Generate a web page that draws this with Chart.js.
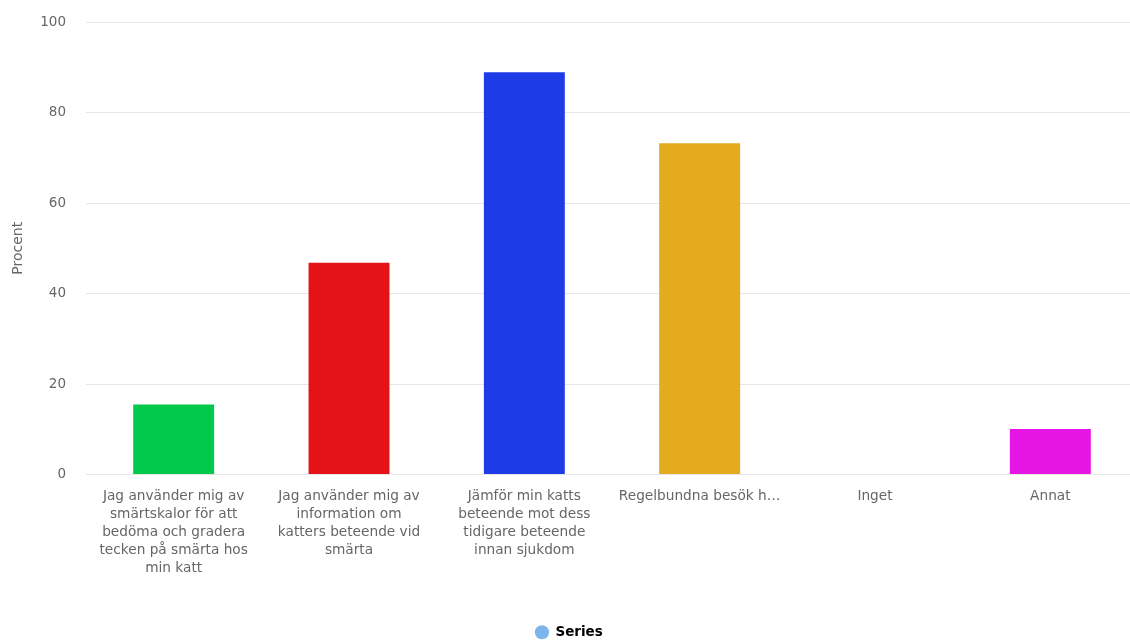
<!DOCTYPE html>
<html>
<head>
<meta charset="utf-8">
<script src="https://cdn.jsdelivr.net/npm/chart.js@4/dist/chart.umd.min.js"></script>
<style>
  html, body { margin: 0; padding: 0; background: #ffffff; overflow: hidden; width: 1130px; height: 640px; }
  #wrap { position: absolute; left: 0; top: 0; width: 1145px; height: 649px; }
  canvas { display: block; }
</style>
</head>
<body>
<div id="wrap"><canvas id="c" width="1145" height="649"></canvas></div>
<script>
const categories = [
  ["Jag använder mig av", "smärtskalor för att", "bedöma och gradera", "tecken på smärta hos", "min katt"],
  ["Jag använder mig av", "information om", "katters beteende vid", "smärta"],
  ["Jämför min katts", "beteende mot dess", "tidigare beteende", "innan sjukdom"],
  ["Regelbundna besök h…"],
  ["Inget"],
  ["Annat"]
];
const seriesName = "Series";
const values = [15.7, 47.0, 89.1, 73.4, 0, 10.3];
const barColors = ["#00C94C", "#E31317", "#1E3BE8", "#E5AB1E", "#7CB5EC", "#E615E3"];
const yTicks = [0, 20, 40, 60, 80, 100];
const yTitle = "Procent";
const legendColor = "#7CB5EC";

const FONT = "'DejaVu Sans', 'Liberation Sans', sans-serif";

new Chart(document.getElementById('c'), {
  type: 'bar',
  data: {
    labels: categories,
    datasets: [{
      label: seriesName,
      data: values,
      backgroundColor: barColors,
      borderColor: 'rgba(255,255,255,0.3)',
      borderWidth: 1,
      categoryPercentage: 1.0,
      barPercentage: 0.473
    }]
  },
  options: {
    responsive: false,
    animation: false,
    layout: { padding: { top: 22, right: 7, left: 0, bottom: 0 } },
    plugins: {
      tooltip: { enabled: false },
      legend: {
        position: 'bottom',
        labels: {
          usePointStyle: true,
          boxWidth: 21,
          boxHeight: 10,
          padding: 10,
          color: '#333333',
          font: { family: FONT, size: 13.5, weight: 'bold' },
          generateLabels: () => [{
            text: seriesName,
            fillStyle: legendColor,
            strokeStyle: legendColor,
            lineWidth: 0,
            pointStyle: 'circle',
            hidden: false,
            datasetIndex: 0
          }]
        }
      }
    },
    scales: {
      x: {
        grid: { display: false },
        border: { display: false },
        ticks: {
          autoSkip: false,
          maxRotation: 0,
          minRotation: 0,
          padding: 5,
          color: '#666666',
          font: { family: FONT, size: 13.7, lineHeight: '18px' }
        },
        afterFit: (s) => { s.height = 141; }
      },
      y: {
        min: 0,
        max: 100,
        afterBuildTicks: (s) => { s.ticks = yTicks.map(v => ({ value: v })); },
        grid: { color: '#E6E6E6', drawTicks: true, tickLength: 15, tickColor: 'rgba(0,0,0,0)', lineWidth: 1 },
        border: { display: false },
        ticks: {
          padding: 5,
          color: '#666666',
          font: { family: FONT, size: 13.5 }
        },
        title: {
          display: true,
          text: yTitle,
          color: '#666666',
          font: { family: FONT, size: 14 },
          padding: { top: 10, bottom: 0 }
        },
        afterFit: (s) => { s.width = 86; }
      }
    }
  }
});
</script>
</body>
</html>
